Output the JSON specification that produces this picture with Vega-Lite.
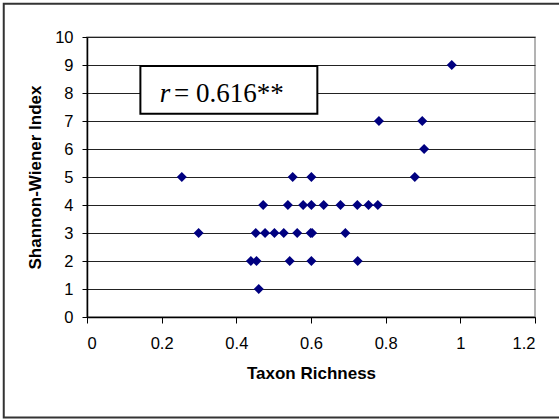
{
  "$schema": "https://vega.github.io/schema/vega-lite/v6.json",
  "autosize": "none",
  "width": 448,
  "height": 280,
  "padding": {"left": 87, "top": 37, "right": 24, "bottom": 102},
  "background": "white",
  "config": {
    "view": {"stroke": "#9a9a9a", "strokeWidth": 1.5},
    "axis": {
      "labelFont": "Liberation Sans",
      "titleFont": "Liberation Sans",
      "labelFontSize": 16.5,
      "titleFontSize": 17,
      "titleFontWeight": "bold",
      "labelColor": "#000",
      "titleColor": "#000",
      "domainColor": "#000",
      "domainWidth": 1.5,
      "tickColor": "#000",
      "tickWidth": 1,
      "labelOverlap": false
    },
    "axisY": {"tickCount": 10, "grid": true, "gridColor": "#222", "gridWidth": 1, "tickSize": 5, "labelPadding": 9, "titlePadding": 10},
    "axisX": {"tickCount": 6, "grid": false, "tickSize": 6, "labelPadding": 12, "titlePadding": 14}
  },
  "layer": [
    {
      "data": {"values": [
        {"richness": 0.977, "index": 9},
        {"richness": 0.782, "index": 7},
        {"richness": 0.898, "index": 7},
        {"richness": 0.903, "index": 6},
        {"richness": 0.254, "index": 5},
        {"richness": 0.551, "index": 5},
        {"richness": 0.601, "index": 5},
        {"richness": 0.878, "index": 5},
        {"richness": 0.472, "index": 4},
        {"richness": 0.538, "index": 4},
        {"richness": 0.579, "index": 4},
        {"richness": 0.601, "index": 4},
        {"richness": 0.634, "index": 4},
        {"richness": 0.679, "index": 4},
        {"richness": 0.724, "index": 4},
        {"richness": 0.754, "index": 4},
        {"richness": 0.779, "index": 4},
        {"richness": 0.299, "index": 3},
        {"richness": 0.452, "index": 3},
        {"richness": 0.477, "index": 3},
        {"richness": 0.502, "index": 3},
        {"richness": 0.527, "index": 3},
        {"richness": 0.563, "index": 3},
        {"richness": 0.599, "index": 3},
        {"richness": 0.603, "index": 3},
        {"richness": 0.692, "index": 3},
        {"richness": 0.439, "index": 2},
        {"richness": 0.454, "index": 2},
        {"richness": 0.543, "index": 2},
        {"richness": 0.601, "index": 2},
        {"richness": 0.725, "index": 2},
        {"richness": 0.460, "index": 1}
      ]},
      "mark": {"type": "point", "shape": "diamond", "filled": true, "color": "#000080", "opacity": 1, "size": 100},
      "encoding": {
        "x": {
          "field": "richness", "type": "quantitative",
          "title": "Taxon Richness",
          "scale": {"domain": [0, 1.2], "nice": false},
          "axis": {"format": "~g"}
        },
        "y": {
          "field": "index", "type": "quantitative",
          "title": "Shannon-Wiener Index",
          "scale": {"domain": [0, 10], "nice": false}
        }
      }
    },
    {
      "data": {"values": [{"x1": -0.223, "x2": 1.3, "y1": 11.19, "y2": -3.59}]},
      "mark": {"type": "rect", "fill": null, "stroke": "#333", "strokeWidth": 2, "clip": false},
      "encoding": {
        "x": {"field": "x1", "type": "quantitative"},
        "x2": {"field": "x2"},
        "y": {"field": "y1", "type": "quantitative"},
        "y2": {"field": "y2"}
      }
    },
    {
      "data": {"values": [{"x1": 0.143, "x2": 0.617, "y1": 8.96, "y2": 7.26}]},
      "mark": {"type": "rect", "fill": "white", "stroke": "#000", "strokeWidth": 2},
      "encoding": {
        "x": {"field": "x1", "type": "quantitative"},
        "x2": {"field": "x2"},
        "y": {"field": "y1", "type": "quantitative"},
        "y2": {"field": "y2"}
      }
    },
    {
      "data": {"values": [{"tx": 0.195, "ty": 7.68, "label": "r"}]},
      "mark": {"type": "text", "font": "Liberation Serif", "fontStyle": "italic", "fontSize": 27, "align": "left", "baseline": "alphabetic", "color": "#000"},
      "encoding": {
        "x": {"field": "tx", "type": "quantitative"},
        "y": {"field": "ty", "type": "quantitative"},
        "text": {"field": "label"}
      }
    },
    {
      "data": {"values": [{"tx": 0.233, "ty": 7.68, "label": "= 0.616**"}]},
      "mark": {"type": "text", "font": "Liberation Serif", "fontSize": 27, "align": "left", "baseline": "alphabetic", "color": "#000"},
      "encoding": {
        "x": {"field": "tx", "type": "quantitative"},
        "y": {"field": "ty", "type": "quantitative"},
        "text": {"field": "label"}
      }
    }
  ]
}
